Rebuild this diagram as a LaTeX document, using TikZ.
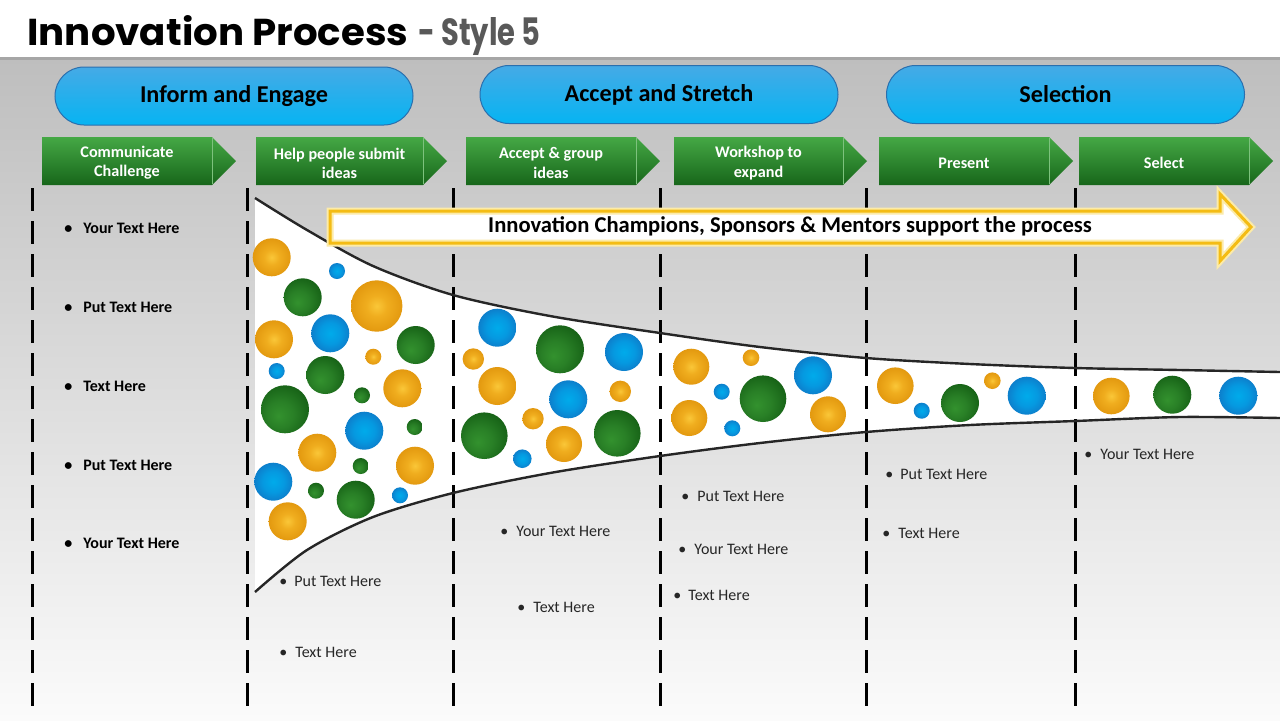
\documentclass[tikz,border=0pt]{standalone}
\usepackage{fontspec}
\setmainfont{Carlito}
\newfontfamily\titlefont{Poppins}
\definecolor{bgtop}{HTML}{BEBEBE}
\definecolor{bgmid}{HTML}{EAEAEA}
\definecolor{bgbot}{HTML}{FBFBFB}
\definecolor{linegray}{HTML}{A6A6A6}
\definecolor{stylegray}{HTML}{595959}
\definecolor{pilltop}{HTML}{45AAE6}
\definecolor{pillmid}{HTML}{057CCC}
\definecolor{pillbot}{HTML}{06B4F2}
\definecolor{pillline}{HTML}{2A6FAE}
\definecolor{gtop}{HTML}{45A845}
\definecolor{gbot}{HTML}{17661A}
\definecolor{yarrow}{HTML}{F4BC14}
\definecolor{yglow}{HTML}{FCEBA8}
\definecolor{txtgray}{HTML}{262626}
\pgfdeclareradialshading{ballO}{\pgfpoint{0bp}{0bp}}{rgb(0bp)=(0.98,0.78,0.22); rgb(10bp)=(0.94,0.68,0.12); rgb(25bp)=(0.89,0.6,0.06); rgb(50bp)=(0.89,0.6,0.06)}
\pgfdeclareradialshading{ballB}{\pgfpoint{0bp}{0bp}}{rgb(0bp)=(0.0,0.67,0.92); rgb(14bp)=(0.02,0.6,0.88); rgb(25bp)=(0.05,0.5,0.8); rgb(50bp)=(0.05,0.5,0.8)}
\pgfdeclareradialshading{ballG}{\pgfpoint{-7bp}{-7bp}}{rgb(0bp)=(0.2,0.57,0.18); rgb(14bp)=(0.16,0.5,0.15); rgb(32bp)=(0.08,0.37,0.08); rgb(60bp)=(0.08,0.37,0.08)}
\newcommand\myball[4]{\shade[shading=#1] (#2,#3) circle[radius=#4*0.5pt];}
\newcommand\greenarrow[4]{%
  \shade[gshade] (#2,137) -- (#3,137) -- ({#3+24},161) -- (#3,185) -- (#2,185) -- cycle;
  \draw[gedge] (#3,138) -- (#3,184);
  \node[gtext] (#1) at ({(#2+#3)/2},163) {#4};}
\begin{document}
\begin{tikzpicture}[x=0.5pt,y=-0.5pt,
  pill/.style={shading=axis, top color=pilltop, middle color=pillmid, bottom color=pillbot,
    draw=pillline, line width=0.5pt, minimum width=179pt, minimum height=29pt,
    rounded corners=14.5pt, font=\bfseries\fontsize{12.1}{14}\selectfont, text=black},
  gshade/.style={top color=gtop, bottom color=gbot},
  gedge/.style={draw=gtop!70!white, line width=0.4pt},
  gtext/.style={text=white, align=center, font=\bfseries\fontsize{8.1}{9.6}\selectfont},
  colline/.style={line width=1.5pt, dash pattern=on 11.5pt off 5pt},
  funnel/.style={draw=txtgray, line width=1.2pt},
  btxt/.style={anchor=west, inner sep=0pt, text=txtgray, font=\fontsize{8}{9}\selectfont},
  bbold/.style={anchor=west, inner sep=0pt, text=black, font=\bfseries\fontsize{8}{9}\selectfont}]
\useasboundingbox (0,0) rectangle (1280,720);
\fill[white] (0,0) rectangle (1280,720);
\shade[top color=bgtop, middle color=bgmid, bottom color=bgbot] (0,58) rectangle (1280,720);
\draw[linegray, line width=1.5pt] (0,58) -- (1280,58);
% title
\node[anchor=base west, inner sep=0pt] (title) at (27,45) {\resizebox{190.5pt}{15pt}{\titlefont\bfseries Innovation Process}};
\node[anchor=base west, inner sep=0pt, text=stylegray] (style) at (418,45) {\resizebox{61pt}{14pt}{\titlefont\bfseries - Style 5}};
% funnel fill
\fill[white] plot[smooth] coordinates {(255,198) (307,230) (373,266) (453,295) (550,316) (660,333) (760,347) (866,358) (970,364) (1075,368) (1180,370) (1280,372)}
  -- (1280,418) -- plot[smooth] coordinates {(1180,417) (1075,421) (970,425) (866,432) (760,443) (660,456) (550,473) (453,493) (373,517) (307,550) (255,592)} -- cycle;
% column lines
\foreach \cx [count=\i] in {32,247,453,660,866,1075}{
  \coordinate (ct\i) at (\cx,188);
  \coordinate (cb\i) at (\cx,708);
  \draw[colline] (ct\i) -- (cb\i);
}
% funnel curves
\draw[funnel] plot[smooth] coordinates {(255,198) (307,230) (373,266) (453,295) (550,316) (660,333) (760,347) (866,358) (970,364) (1075,368) (1180,370) (1280,372)};
\draw[funnel] plot[smooth] coordinates {(255,592) (307,550) (373,517) (453,493) (550,473) (660,456) (760,443) (866,432) (970,425) (1075,421) (1180,417) (1280,418)};
% bubbles column 2
\myball{ballO}{271.7}{257.3}{19}
\myball{ballB}{337}{271}{8}
\myball{ballG}{302.7}{297.3}{19}
\myball{ballO}{376.7}{306}{25.7}
\myball{ballO}{274}{339.3}{19}
\myball{ballB}{330.3}{333.3}{19}
\myball{ballG}{415.7}{345}{19}
\myball{ballO}{373.3}{356.7}{8}
\myball{ballB}{276.7}{371}{8}
\myball{ballG}{325.3}{375}{19}
\myball{ballG}{362}{395.3}{8}
\myball{ballO}{402.3}{388.3}{19}
\myball{ballG}{285}{409.3}{24}
\myball{ballB}{364.3}{430.7}{19}
\myball{ballG}{414.7}{427}{8}
\myball{ballO}{317.3}{452.7}{19}
\myball{ballG}{360.7}{466}{8}
\myball{ballO}{415}{465.7}{19}
\myball{ballB}{273.3}{481.7}{19}
\myball{ballG}{316}{490.7}{8}
\myball{ballG}{355.7}{499.7}{19}
\myball{ballB}{400}{495.3}{8}
\myball{ballO}{287.7}{521.3}{19}
% bubbles column 3
\myball{ballB}{497.3}{327.7}{19}
\myball{ballG}{560}{349.3}{24}
\myball{ballB}{624}{352}{19}
\myball{ballO}{473.3}{359}{10.7}
\myball{ballO}{497.3}{386}{19}
\myball{ballB}{568.3}{399.3}{19}
\myball{ballO}{620.3}{391.3}{10.7}
\myball{ballO}{533}{418.7}{10.7}
\myball{ballG}{484.3}{435.7}{23.3}
\myball{ballO}{564}{444}{18}
\myball{ballG}{617.3}{433.3}{23.3}
\myball{ballB}{522.3}{458.7}{9.3}
% bubbles column 4
\myball{ballO}{691.3}{366.7}{18}
\myball{ballO}{751}{357.7}{8.3}
\myball{ballB}{721.7}{391.7}{8}
\myball{ballG}{763}{398.7}{23.3}
\myball{ballB}{813}{375.3}{19}
\myball{ballO}{689.3}{418}{18}
\myball{ballB}{732.3}{428.3}{8}
\myball{ballO}{828}{414.3}{18}
% bubbles columns 5-6
\myball{ballO}{895.3}{385.7}{18.3}
\myball{ballB}{921.7}{410.7}{8}
\myball{ballG}{960}{403}{19}
\myball{ballO}{992.3}{380.7}{8.3}
\myball{ballB}{1026.7}{395.7}{19}
\myball{ballO}{1111.3}{396}{18.3}
\myball{ballG}{1172.3}{394.7}{19}
\myball{ballB}{1238.3}{395.7}{19}
% yellow arrow
\path[fill=white, draw=yglow, line width=3.5pt, line join=miter] (330,211) -- (1220,211) -- (1220,194) -- (1251,227) -- (1220,261) -- (1220,243) -- (330,243) -- cycle;
\draw[yarrow, line width=1.5pt, line join=miter] (330,211) -- (1220,211) -- (1220,194) -- (1251,227) -- (1220,261) -- (1220,243) -- (330,243) -- cycle;
\node[font=\bfseries\fontsize{11.3}{13}\selectfont, text=black] (support) at (790,226) {Innovation Champions, Sponsors \& Mentors support the process};
% green step arrows
\greenarrow{s1}{42}{212}{Communicate\\Challenge}
\greenarrow{s2}{256}{423}{Help people submit\\ideas}
\greenarrow{s3}{466}{636}{Accept \& group\\ideas}
\greenarrow{s4}{674}{843}{Workshop to\\expand}
\greenarrow{s5}{879}{1049}{Present}
\greenarrow{s6}{1079}{1249}{Select}
% phase pills
\node[pill] (p1) at (234,96) {Inform and Engage};
\node[pill] (p2) at (659,94.5) {Accept and Stretch};
\node[pill] (p3) at (1065.5,94.5) {Selection};
% bullet texts column 1
\node[bbold] (a1) at (64,228) {\makebox[9.5pt][l]{\textbullet}Your Text Here};
\node[bbold] (a2) at (64,307) {\makebox[9.5pt][l]{\textbullet}Put Text Here};
\node[bbold] (a3) at (64,386) {\makebox[9.5pt][l]{\textbullet}Text Here};
\node[bbold] (a4) at (64,465) {\makebox[9.5pt][l]{\textbullet}Put Text Here};
\node[bbold] (a5) at (64,543) {\makebox[9.5pt][l]{\textbullet}Your Text Here};
% other bullet texts
\node[btxt] (b1) at (279,581) {\makebox[7.5pt][l]{\textbullet}Put Text Here};
\node[btxt] (b2) at (279,652) {\makebox[8pt][l]{\textbullet}Text Here};
\node[btxt] (c1) at (500,531) {\makebox[8pt][l]{\textbullet}Your Text Here};
\node[btxt] (c2) at (517,607) {\makebox[8pt][l]{\textbullet}Text Here};
\node[btxt] (d1) at (681,496) {\makebox[8pt][l]{\textbullet}Put Text Here};
\node[btxt] (d2) at (678,549) {\makebox[8pt][l]{\textbullet}Your Text Here};
\node[btxt] (d3) at (673,595) {\makebox[7.5pt][l]{\textbullet}Text Here};
\node[btxt] (e1) at (885,474) {\makebox[7.5pt][l]{\textbullet}Put Text Here};
\node[btxt] (e2) at (882,533) {\makebox[8pt][l]{\textbullet}Text Here};
\node[btxt] (f1) at (1084,454) {\makebox[8pt][l]{\textbullet}Your Text Here};
\end{tikzpicture}
\end{document}
